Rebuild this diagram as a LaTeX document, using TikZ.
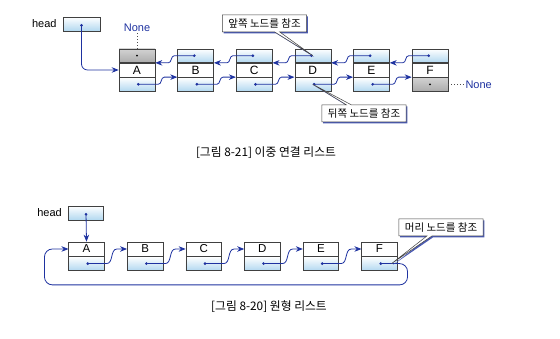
\documentclass[tikz,border=0pt]{standalone}
\usepackage{fontspec}
\setmainfont{Liberation Sans}
\newfontfamily\kr{Noto Sans CJK KR}
\usepackage{xcolor}
\usepackage{tikz}
\usetikzlibrary{arrows.meta, positioning, calc, shadows, shapes.callouts}
\definecolor{linkblue}{RGB}{30,50,160}
\definecolor{cellblue}{RGB}{178,216,240}
\definecolor{rim}{gray}{0.25}

\begin{document}
\begin{tikzpicture}[
        x=1pt, y=1pt,
        node distance=22pt,
        cell/.style={rectangle, draw=rim, line width=0.6pt, inner sep=0pt, minimum width=36pt, minimum height=13.7pt, font=\fontsize{12}{12}\selectfont},
        ptr/.style={cell, top color=white, bottom color=cellblue},
        nullptr/.style={cell, top color=gray!35, bottom color=gray!65},
        val/.style={cell, fill=white},
        ring/.style={minimum width=35.5pt, minimum height=14pt, font=\fontsize{11.5}{11.5}\selectfont},
        txt/.style={inner sep=1pt, font=\fontsize{11}{11}\selectfont},
        link/.style={draw=linkblue, line width=0.8pt, {Circle[length=2.6pt]}-{Stealth[length=7pt, width=5.5pt]}},
        nonelink/.style={dotted, line width=0.9pt, draw=black!70},
        note/.style={rectangle callout, draw=rim, fill=white, line width=0.5pt, font=\kr\fontsize{10.5}{10.5}\selectfont, inner xsep=6pt, inner ysep=2pt, minimum height=17pt, callout pointer width=5pt, drop shadow={fill=linkblue!80, opacity=1, shadow xshift=1.3pt, shadow yshift=-1.3pt}},
        caption/.style={font=\kr\fontsize{11.8}{11.8}\selectfont}
    ]
        \useasboundingbox (0,0) rectangle (560,339);

        % DOUBLY LINKED LIST
        \node[ptr, minimum width=37pt, minimum height=14pt] (dhead) at (81.5,315) {};
        \node[txt, left=5pt of dhead] (dheadlabel) {head};

        \node[val] (dA) at (137,269) {A};
        \node[nullptr] (dAprev) [above=0pt of dA] {};
        \node[ptr] (dAnext) [below=0pt of dA] {};
        \node[val] (dB) [right=of dA] {B};
        \node[ptr] (dBprev) [above=0pt of dB] {};
        \node[ptr] (dBnext) [below=0pt of dB] {};
        \node[val] (dC) [right=of dB] {C};
        \node[ptr] (dCprev) [above=0pt of dC] {};
        \node[ptr] (dCnext) [below=0pt of dC] {};
        \node[val] (dD) [right=of dC] {D};
        \node[ptr] (dDprev) [above=0pt of dD] {};
        \node[ptr] (dDnext) [below=0pt of dD] {};
        \node[val] (dE) [right=of dD] {E};
        \node[ptr] (dEprev) [above=0pt of dE] {};
        \node[ptr] (dEnext) [below=0pt of dE] {};
        \node[val] (dF) [right=of dE] {F};
        \node[ptr] (dFprev) [above=0pt of dF] {};
        \node[nullptr] (dFnext) [below=0pt of dF] {};
        \fill (dAprev.center) circle (1pt);
        \fill (dFnext.center) circle (1pt);

        \node[txt, text=linkblue, above=16pt of dAprev] (dnone1) {None};
        \node[txt, text=linkblue, right=16pt of dFnext] (dnone2) {None};
        \draw[nonelink] (dAprev.north) -- (dnone1.south);
        \draw[nonelink] (dFnext.east) -- (dnone2.west);

        \draw[link, rounded corners=6pt] (dhead.center) |- (dA.west);

        \draw[link] (dAnext.center) -- ([xshift=3pt]dAnext.east) to[out=0, in=180] ([xshift=9pt]dA.south east) -- (dB.south west);
        \draw[link] (dBnext.center) -- ([xshift=3pt]dBnext.east) to[out=0, in=180] ([xshift=9pt]dB.south east) -- (dC.south west);
        \draw[link] (dCnext.center) -- ([xshift=3pt]dCnext.east) to[out=0, in=180] ([xshift=9pt]dC.south east) -- (dD.south west);
        \draw[link] (dDnext.center) -- ([xshift=3pt]dDnext.east) to[out=0, in=180] ([xshift=9pt]dD.south east) -- (dE.south west);
        \draw[link] (dEnext.center) -- ([xshift=3pt]dEnext.east) to[out=0, in=180] ([xshift=9pt]dE.south east) -- (dF.south west);

        \draw[link] (dBprev.center) -- ([xshift=-3pt]dBprev.west) to[out=180, in=0] ([xshift=-9pt]dB.north west) -- (dA.north east);
        \draw[link] (dCprev.center) -- ([xshift=-3pt]dCprev.west) to[out=180, in=0] ([xshift=-9pt]dC.north west) -- (dB.north east);
        \draw[link] (dDprev.center) -- ([xshift=-3pt]dDprev.west) to[out=180, in=0] ([xshift=-9pt]dD.north west) -- (dC.north east);
        \draw[link] (dEprev.center) -- ([xshift=-3pt]dEprev.west) to[out=180, in=0] ([xshift=-9pt]dE.north west) -- (dD.north east);
        \draw[link] (dFprev.center) -- ([xshift=-3pt]dFprev.west) to[out=180, in=0] ([xshift=-9pt]dF.north west) -- (dE.north east);

        \node[note, callout absolute pointer={(dDprev.center)}] (prevnote) at (264.5,315.5) {앞쪽 노드를 참조};
        \node[note, callout absolute pointer={(dDnext.center)}] (nextnote) at (364,225.5) {뒤쪽 노드를 참조};

        \node[caption] (cap1) at (266,186) {[그림 8-21] 이중 연결 리스트};

        % CIRCULAR LIST
        \node[ptr, ring] (chead) at (86,126) {};
        \node[txt, left=5pt of chead] (cheadlabel) {head};

        \node[val, ring] (cA) at (86.5,90) {A};
        \node[ptr, ring] (cAnext) [below=0pt of cA] {};
        \node[val, ring] (cB) [right=22.5pt of cA] {B};
        \node[ptr, ring] (cBnext) [below=0pt of cB] {};
        \node[val, ring] (cC) [right=22.5pt of cB] {C};
        \node[ptr, ring] (cCnext) [below=0pt of cC] {};
        \node[val, ring] (cD) [right=22.5pt of cC] {D};
        \node[ptr, ring] (cDnext) [below=0pt of cD] {};
        \node[val, ring] (cE) [right=22.5pt of cD] {E};
        \node[ptr, ring] (cEnext) [below=0pt of cE] {};
        \node[val, ring] (cF) [right=22.5pt of cE] {F};
        \node[ptr, ring] (cFnext) [below=0pt of cF] {};

        \draw[link] (chead.center) -- (cA.north);
        \draw[link] (cAnext.center) -- ([xshift=2pt]cAnext.east) to[out=0, in=180] ([xshift=-10pt]cB.west) -- (cB.west);
        \draw[link] (cBnext.center) -- ([xshift=2pt]cBnext.east) to[out=0, in=180] ([xshift=-10pt]cC.west) -- (cC.west);
        \draw[link] (cCnext.center) -- ([xshift=2pt]cCnext.east) to[out=0, in=180] ([xshift=-10pt]cD.west) -- (cD.west);
        \draw[link] (cDnext.center) -- ([xshift=2pt]cDnext.east) to[out=0, in=180] ([xshift=-10pt]cE.west) -- (cE.west);
        \draw[link] (cEnext.center) -- ([xshift=2pt]cEnext.east) to[out=0, in=180] ([xshift=-10pt]cF.west) -- (cF.west);
        \draw[link, rounded corners=8pt] (cFnext.center) -- ([xshift=10pt]cFnext.east) |- ([xshift=-24pt, yshift=-14pt]cAnext.south west) |- (cA.west);

        \node[note, callout absolute pointer={([xshift=-6pt]cFnext.east)}] (headnote) at (441,111.5) {머리 노드를 참조};

        \node[caption] (cap2) at (269,32) {[그림 8-20] 원형 리스트};
    \end{tikzpicture}
\end{document}
